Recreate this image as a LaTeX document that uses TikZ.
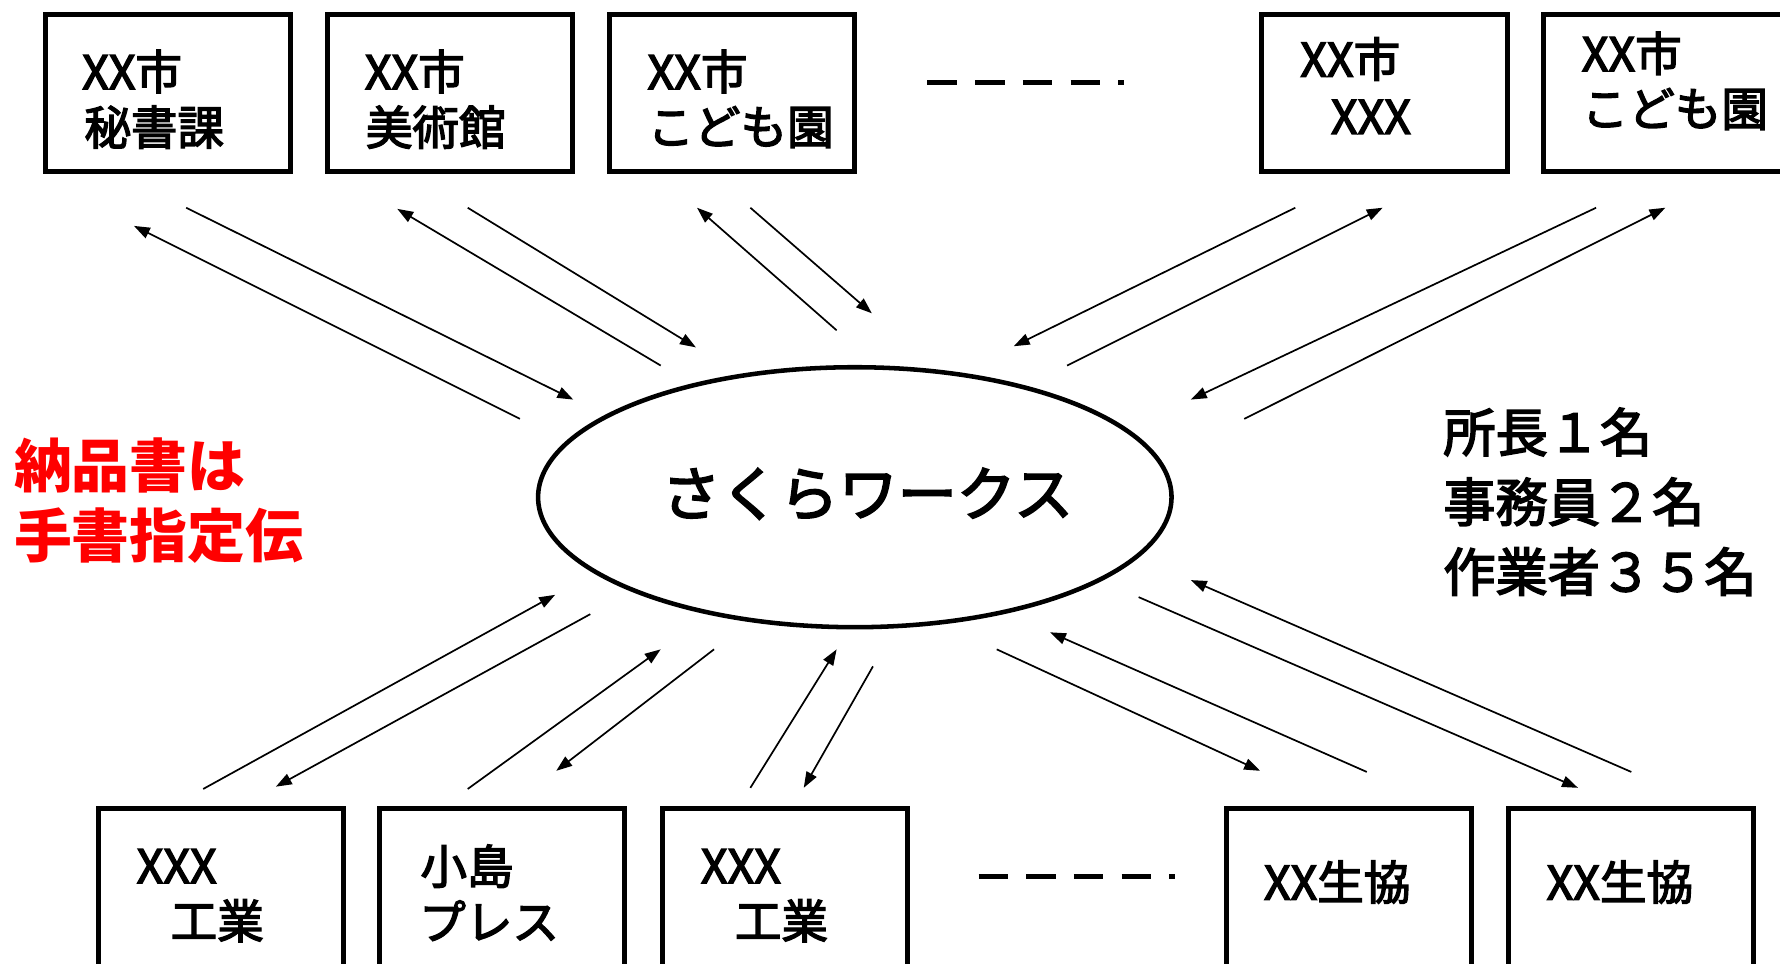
\documentclass[tikz,border=0pt]{standalone}
\usepackage{fontspec}
\newfontfamily\jp{Noto Sans CJK JP}
\newfontfamily\jpm[FakeBold=3]{Noto Sans CJK JP}
\usetikzlibrary{arrows.meta,shapes.geometric}
\begin{document}
\begin{tikzpicture}[x=0.5pt,y=-0.5pt,
  box/.style={draw,line width=2.2pt,minimum width=108pt,minimum height=69pt,inner sep=0pt},
  lowbox/.style={draw,line width=2.2pt,minimum width=108pt,minimum height=84pt,inner sep=0pt},
  boxtxt/.style={font=\jpm\fontsize{20.5pt}{24pt}\selectfont,anchor=west,inner sep=0pt},
  arr/.style={line width=0.75pt,-{Triangle[length=7pt,width=5pt]}},
  dots/.style={line width=2.2pt,dash pattern=on 13pt off 8pt}]
\useasboundingbox (0,0) rectangle (1568,849);
\clip (0,0) rectangle (1568,849);
\fill[white] (0,0) rectangle (1568,849);
% top boxes
\node[box] (b1) at (148,82) {};
\node[box] (b2) at (396.5,82) {};
\node[box] (b3) at (644.5,82) {};
\node[box] (b4) at (1219.5,82) {};
\node[box] (b5) at (1468,82) {};
\node[boxtxt] (t1a) at (72,63) {XX市};
\node[boxtxt] (t1b) at (74,112) {秘書課};
\node[boxtxt] (t2a) at (321,63) {XX市};
\node[boxtxt] (t2b) at (322,112) {美術館};
\node[boxtxt] (t3a) at (570,63) {XX市};
\node[boxtxt] (t3b) at (570,112) {こども園};
\node[boxtxt] (t4a) at (1145,52) {XX市};
\node[boxtxt] (t4b) at (1172,103) {XXX};
\node[boxtxt] (t5a) at (1393,47) {XX市};
\node[boxtxt] (t5b) at (1393,96) {こども園};
\coordinate (d1s) at (817,73);
\coordinate (d1e) at (990,73);
\draw[dots] (d1s) -- (d1e);
% bottom boxes
\node[lowbox] (b6) at (194.5,796) {};
\node[lowbox] (b7) at (442.5,796) {};
\node[lowbox] (b8) at (691.5,796) {};
\node[lowbox] (b9) at (1188.5,796) {};
\node[lowbox] (b10) at (1436.5,796) {};
\node[boxtxt] (t6a) at (120,763) {XXX};
\node[boxtxt] (t6b) at (150,811) {工業};
\node[boxtxt] (t7a) at (370,763) {小島};
\node[boxtxt] (t7b) at (369,811) {プレス};
\node[boxtxt] (t8a) at (617,763) {XXX};
\node[boxtxt] (t8b) at (647,811) {工業};
\node[boxtxt] (t9) at (1113,777) {XX生協};
\node[boxtxt] (t10) at (1362,777) {XX生協};
\coordinate (d2s) at (862,772);
\coordinate (d2e) at (1035,772);
\draw[dots] (d2s) -- (d2e);
% center
\node[draw,ellipse,line width=2pt,minimum width=279pt,minimum height=114.5pt,inner sep=0pt] (sw) at (753,438) {};
\node[font=\jpm\fontsize{26pt}{30pt}\selectfont,inner sep=0pt] (swt) at (764,435) {さくらワークス};
% left red text
\node[font=\jp\bfseries\fontsize{25.5pt}{31pt}\selectfont,text=red,anchor=west,inner sep=0pt,align=left] (red) at (12,441) {納品書は\\手書指定伝};
% right text
\node[font=\jpm\fontsize{23pt}{30.75pt}\selectfont,anchor=west,inner sep=0pt,align=left] (staff) at (1271,442) {所長１名\\事務員２名\\作業者３５名};
% arrows top
\coordinate (p1s) at (458,369); \coordinate (p1e) at (118,199);
\coordinate (p2s) at (164,183); \coordinate (p2e) at (505,352);
\coordinate (p3s) at (582,322); \coordinate (p3e) at (350,184);
\coordinate (p4s) at (412,183); \coordinate (p4e) at (613,306);
\coordinate (p5s) at (737,291); \coordinate (p5e) at (614,183);
\coordinate (p6s) at (661,183); \coordinate (p6e) at (768,276);
\coordinate (p7s) at (1141,183); \coordinate (p7e) at (893,305);
\coordinate (p8s) at (940,322); \coordinate (p8e) at (1218,183);
\coordinate (p9s) at (1406,183); \coordinate (p9e) at (1049,352);
\coordinate (p10s) at (1096,369); \coordinate (p10e) at (1467,183);
% arrows bottom
\coordinate (q1s) at (179,695); \coordinate (q1e) at (489,524);
\coordinate (q2s) at (520,541); \coordinate (q2e) at (243,693);
\coordinate (q3s) at (412,695); \coordinate (q3e) at (582,572);
\coordinate (q4s) at (629,572); \coordinate (q4e) at (490,679);
\coordinate (q5s) at (661,694); \coordinate (q5e) at (737,572);
\coordinate (q6s) at (769,587); \coordinate (q6e) at (708,694);
\coordinate (q7s) at (878,572); \coordinate (q7e) at (1110,679);
\coordinate (q8s) at (1204,680); \coordinate (q8e) at (925,557);
\coordinate (q9s) at (1003,526); \coordinate (q9e) at (1390,694);
\coordinate (q10s) at (1437,680); \coordinate (q10e) at (1049,511);
\foreach \n in {p1,p2,p3,p4,p5,p6,p7,p8,p9,p10,q1,q2,q3,q4,q5,q6,q7,q8,q9,q10}
  \draw[arr] (\n s) -- (\n e);
\end{tikzpicture}
\end{document}
